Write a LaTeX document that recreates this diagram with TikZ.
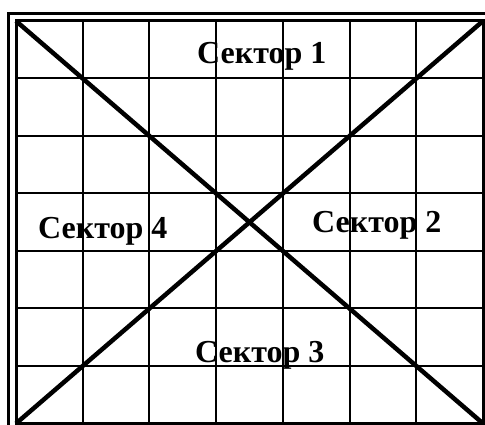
\documentclass[tikz,border=0pt]{standalone}
\usepackage{fontspec}
\setmainfont{Liberation Serif}
\begin{document}
\begin{tikzpicture}[x=1pt,y=1pt,
  gridline/.style={line width=2pt},
  frameline/.style={line width=3pt},
  diag/.style={line width=4.5pt},
  lbl/.style={font=\bfseries\fontsize{32}{38}\selectfont, inner sep=0pt, anchor=base west}]
\useasboundingbox (0,0) rectangle (485,425);
\coordinate (bl) at (16,1.5);
\coordinate (tr) at (483,404);
\coordinate (tl) at (16,404);
\coordinate (br) at (483,1.5);
% grid
\foreach \i in {1,...,6} {
  \draw[gridline] ({16+\i*467/7},1.5) -- ({16+\i*467/7},404);
  \draw[gridline] (16,{1.5+\i*402.5/7}) -- (483,{1.5+\i*402.5/7});
}
\draw[frameline] (bl) rectangle (tr);
% outer frame (left and top)
\coordinate (ob) at (8.5,0);
\coordinate (oc) at (8.5,411.5);
\coordinate (or) at (485,411.5);
\draw[frameline] (ob) -- (oc) -- (or);
% diagonals
\draw[diag] (tl) -- (br);
\draw[diag] (bl) -- (tr);
% labels
\node[lbl] (s1) at (197,361) {Сектор 1};
\node[lbl] (s2) at (312,192) {Сектор 2};
\node[lbl] (s3) at (195,62) {Сектор 3};
\node[lbl] (s4) at (38,186) {Сектор 4};
\end{tikzpicture}
\end{document}
